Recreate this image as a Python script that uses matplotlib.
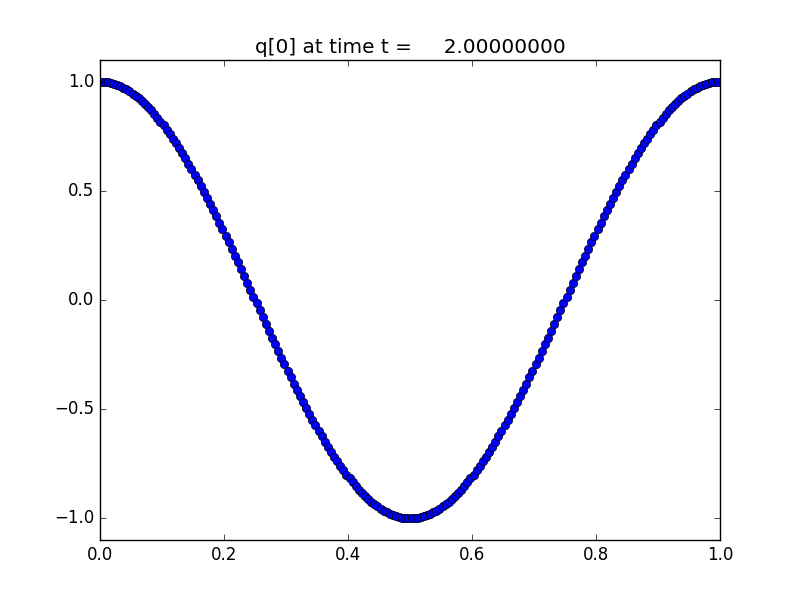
import matplotlib
matplotlib.use("Agg")
import matplotlib.pyplot as plt

plt.style.use("classic")

x = [
    0.0025, 0.0075, 0.0125, 0.0175, 0.0225, 0.0275, 0.0325, 0.0375, 0.0425, 0.0475,
    0.0525, 0.0575, 0.0625, 0.0675, 0.0725, 0.0775, 0.0825, 0.0875, 0.0925, 0.0975,
    0.1025, 0.1075, 0.1125, 0.1175, 0.1225, 0.1275, 0.1325, 0.1375, 0.1425, 0.1475,
    0.1525, 0.1575, 0.1625, 0.1675, 0.1725, 0.1775, 0.1825, 0.1875, 0.1925, 0.1975,
    0.2025, 0.2075, 0.2125, 0.2175, 0.2225, 0.2275, 0.2325, 0.2375, 0.2425, 0.2475,
    0.2525, 0.2575, 0.2625, 0.2675, 0.2725, 0.2775, 0.2825, 0.2875, 0.2925, 0.2975,
    0.3025, 0.3075, 0.3125, 0.3175, 0.3225, 0.3275, 0.3325, 0.3375, 0.3425, 0.3475,
    0.3525, 0.3575, 0.3625, 0.3675, 0.3725, 0.3775, 0.3825, 0.3875, 0.3925, 0.3975,
    0.4025, 0.4075, 0.4125, 0.4175, 0.4225, 0.4275, 0.4325, 0.4375, 0.4425, 0.4475,
    0.4525, 0.4575, 0.4625, 0.4675, 0.4725, 0.4775, 0.4825, 0.4875, 0.4925, 0.4975,
    0.5025, 0.5075, 0.5125, 0.5175, 0.5225, 0.5275, 0.5325, 0.5375, 0.5425, 0.5475,
    0.5525, 0.5575, 0.5625, 0.5675, 0.5725, 0.5775, 0.5825, 0.5875, 0.5925, 0.5975,
    0.6025, 0.6075, 0.6125, 0.6175, 0.6225, 0.6275, 0.6325, 0.6375, 0.6425, 0.6475,
    0.6525, 0.6575, 0.6625, 0.6675, 0.6725, 0.6775, 0.6825, 0.6875, 0.6925, 0.6975,
    0.7025, 0.7075, 0.7125, 0.7175, 0.7225, 0.7275, 0.7325, 0.7375, 0.7425, 0.7475,
    0.7525, 0.7575, 0.7625, 0.7675, 0.7725, 0.7775, 0.7825, 0.7875, 0.7925, 0.7975,
    0.8025, 0.8075, 0.8125, 0.8175, 0.8225, 0.8275, 0.8325, 0.8375, 0.8425, 0.8475,
    0.8525, 0.8575, 0.8625, 0.8675, 0.8725, 0.8775, 0.8825, 0.8875, 0.8925, 0.8975,
    0.9025, 0.9075, 0.9125, 0.9175, 0.9225, 0.9275, 0.9325, 0.9375, 0.9425, 0.9475,
    0.9525, 0.9575, 0.9625, 0.9675, 0.9725, 0.9775, 0.9825, 0.9875, 0.9925, 0.9975,
]

q0 = [
    1.000, 0.999, 0.997, 0.994, 0.990, 0.985, 0.979, 0.972, 0.965, 0.956,
    0.946, 0.935, 0.924, 0.911, 0.898, 0.884, 0.869, 0.853, 0.836, 0.818,
    0.800, 0.780, 0.760, 0.740, 0.718, 0.696, 0.673, 0.649, 0.625, 0.600,
    0.575, 0.549, 0.522, 0.495, 0.468, 0.440, 0.412, 0.383, 0.353, 0.324,
    0.294, 0.264, 0.233, 0.203, 0.172, 0.141, 0.110, 0.078, 0.047, 0.016,
    -0.016, -0.047, -0.078, -0.110, -0.141, -0.172, -0.203, -0.233, -0.264, -0.294,
    -0.324, -0.353, -0.383, -0.412, -0.440, -0.468, -0.495, -0.522, -0.549, -0.575,
    -0.600, -0.625, -0.649, -0.673, -0.696, -0.718, -0.740, -0.760, -0.780, -0.800,
    -0.818, -0.836, -0.853, -0.869, -0.884, -0.898, -0.911, -0.924, -0.935, -0.946,
    -0.956, -0.965, -0.972, -0.979, -0.985, -0.990, -0.994, -0.997, -0.999, -1.000,
    -1.000, -0.999, -0.997, -0.994, -0.990, -0.985, -0.979, -0.972, -0.965, -0.956,
    -0.946, -0.935, -0.924, -0.911, -0.898, -0.884, -0.869, -0.853, -0.836, -0.818,
    -0.800, -0.780, -0.760, -0.740, -0.718, -0.696, -0.673, -0.649, -0.625, -0.600,
    -0.575, -0.549, -0.522, -0.495, -0.468, -0.440, -0.412, -0.383, -0.353, -0.324,
    -0.294, -0.264, -0.233, -0.203, -0.172, -0.141, -0.110, -0.078, -0.047, -0.016,
    0.016, 0.047, 0.078, 0.110, 0.141, 0.172, 0.203, 0.233, 0.264, 0.294,
    0.324, 0.353, 0.383, 0.412, 0.440, 0.468, 0.495, 0.522, 0.549, 0.575,
    0.600, 0.625, 0.649, 0.673, 0.696, 0.718, 0.740, 0.760, 0.780, 0.800,
    0.818, 0.836, 0.853, 0.869, 0.884, 0.898, 0.911, 0.924, 0.935, 0.946,
    0.956, 0.965, 0.972, 0.979, 0.985, 0.990, 0.994, 0.997, 0.999, 1.000,
]

title = "q[0] at time t =     2.00000000"

fig = plt.figure(figsize=(8, 6), dpi=100, facecolor="white")
ax = fig.add_axes([0.125, 0.1, 0.775, 0.8])
ax.plot(x, q0, "bo", markersize=6, markeredgecolor="black", markeredgewidth=0.5)
ax.set_xlim(0.0, 1.0)
ax.set_ylim(-1.1, 1.1)
ax.set_xticks([0.0, 0.2, 0.4, 0.6, 0.8, 1.0])
ax.set_yticks([-1.0, -0.5, 0.0, 0.5, 1.0])
ax.tick_params(labelsize=12)
ax.set_title(title, fontsize=14.4)
fig.savefig("out.png", dpi=100, facecolor="white")
